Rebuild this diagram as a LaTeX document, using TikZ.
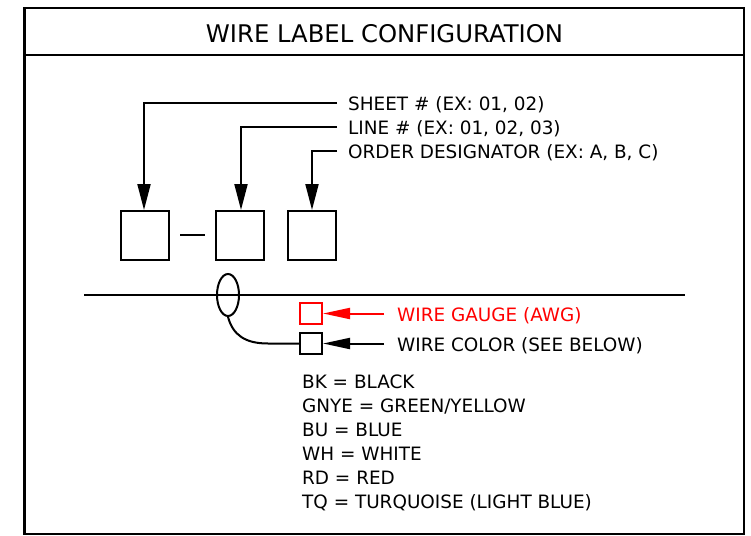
\documentclass[tikz,border=0pt]{standalone}
\usepackage{fontspec}
\setmainfont{DejaVu Sans}
\usetikzlibrary{arrows.meta,shapes.geometric}
\begin{document}
\begin{tikzpicture}[x=1pt,y=-1pt,
  frame/.style={line width=2.2pt},
  thin/.style={line width=2pt},
  boxsq/.style={draw,line width=2pt,minimum width=48pt,minimum height=49pt,inner sep=0pt},
  smallsq/.style={draw,line width=2pt,minimum width=22pt,minimum height=21pt,inner sep=0pt},
  lbl/.style={anchor=base west,inner sep=0pt,font=\fontsize{18.4}{20}\selectfont},
  big/.style={-{Triangle[length=26pt,width=13pt]},line width=2pt},
  small/.style={-{Triangle[length=27pt,width=11pt]},line width=2pt}]
\useasboundingbox (0,0) rectangle (751,535);
% frame
\draw[frame] (24.5,8) rectangle (744,534);
\draw[frame] (24.5,55) -- (744,55);
\node[anchor=base,inner sep=0pt,font=\fontsize{24.3}{28}\selectfont] (title) at (384.5,42) {WIRE LABEL CONFIGURATION};
% boxes
\node[boxsq] (b1) at (145,235.5) {};
\node[boxsq] (b2) at (240,235.5) {};
\node[boxsq] (b3) at (312,235.5) {};
\draw[thin] (180,235) -- (205,235);
% labels
\node[lbl] (sheet) at (348,110) {SHEET \# (EX: 01, 02)};
\node[lbl] (line) at (348,134) {LINE \# (EX: 01, 02, 03)};
\node[lbl] (order) at (348,158) {ORDER DESIGNATOR (EX: A, B, C)};
\coordinate (s0) at (337,103);
\coordinate (l0) at (337,127);
\coordinate (o0) at (337,151);
\draw[big] (s0) -- (144,103) -- (b1.north -| 144,0);
\draw[big] (l0) -- (241,127) -- (b2.north -| 241,0);
\draw[big] (o0) -- (312,151) -- (b3.north);
% wire
\coordinate (wl) at (84,295);
\coordinate (wr) at (685,295);
\draw[thin] (wl) -- (wr);
\node[draw,ellipse,line width=2pt,minimum width=22pt,minimum height=42pt,inner sep=0pt] (ell) at (228,295) {};
% gauge / color
\node[smallsq,draw=red] (gauge) at (311,313.5) {};
\node[smallsq] (color) at (311,343.5) {};
\draw[thin] (ell.south) .. controls (233,335) and (245,343.5) .. (268,343.5) -- (color.west);
\node[lbl,text=red] (gtxt) at (397,321) {WIRE GAUGE (AWG)};
\node[lbl] (ctxt) at (397,351) {WIRE COLOR (SEE BELOW)};
\coordinate (g0) at (384,313.5);
\coordinate (c0) at (384,343.5);
\draw[small,red] (g0) -- (gauge.east);
\draw[small] (c0) -- (color.east);
% list
\node[lbl] (bk) at (302,388) {BK = BLACK};
\node[lbl] (gnye) at (302,412) {GNYE = GREEN/YELLOW};
\node[lbl] (bu) at (302,436) {BU = BLUE};
\node[lbl] (wh) at (302,460) {WH = WHITE};
\node[lbl] (rd) at (302,484) {RD = RED};
\node[lbl] (tq) at (302,508) {TQ = TURQUOISE (LIGHT BLUE)};
\end{tikzpicture}
\end{document}
